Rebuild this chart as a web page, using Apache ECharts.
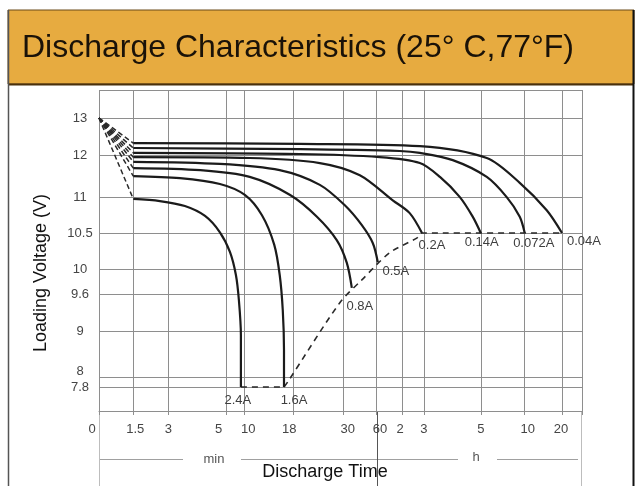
<!DOCTYPE html>
<html><head><meta charset="utf-8">
<script src="https://cdn.jsdelivr.net/npm/echarts@6/dist/echarts.min.js"></script>
<style>html,body{margin:0;padding:0;background:#fff}#c{width:640px;height:486px}</style>
</head><body><div id="c"></div>
<script>
// ---- hand-drawn, non-uniform axes: tick values and their axis-unit positions ----
const xTickMinutes = [0, 1.5, 3, 5, 10, 18, 30, 60, 120, 180, 300, 600, 1200];
const xTickLabels  = ['0','1.5','3','5','10','18','30','60','2','3','5','10','20'];
const xTickScale   = [0, 34.3, 69.3, 127.7, 145.3, 194.3, 244.3, 277.7, 303.3, 325, 382, 426, 463.3];
const xScaleMax    = 483.3;
const yTickVolts   = [13, 12, 11, 10.5, 10, 9.6, 9, 8, 7.8];
const yTickLabels  = ['13','12','11','10.5','10','9.6','9','8','7.8'];
const yTickScale   = [293, 255.5, 213.5, 178, 141.5, 117, 79.5, 34, 24];
const yScaleMax    = 321;

// ---- discharge curves: [time in minutes, voltage] ----
const currents = ['2.4A','1.6A','0.8A','0.5A','0.2A','0.14A','0.072A','0.04A'];
const c2_4   = [[1.5,10.98],[2.64,10.95],[3.57,10.88],[4.26,10.74],[4.77,10.51],[5.94,10.24],[7.64,9.91],[8.49,9.5],[9.06,8.92],[9.06,7.8]];
const c1_6   = [[1.5,11.51],[3.4,11.46],[4.77,11.32],[10.1,11.06],[12.9,10.75],[14.9,10.34],[15.8,9.91],[16.3,9.34],[16.5,8.59],[16.5,7.8]];
const c0_8   = [[1.5,11.7],[4.1,11.65],[10.9,11.49],[17.5,11.06],[23.7,10.73],[28.5,10.4],[33.3,10.09],[37.8,9.7]];
const c0_5   = [[1.5,11.85],[4.77,11.8],[15.8,11.65],[24.4,11.3],[31.5,10.89],[46.8,10.61],[56.7,10.36],[63,10.1]];
const c0_2   = [[1.5,11.96],[10.9,11.94],[24.4,11.82],[45,11.53],[98,10.96],[141,10.78],[175,10.5]];
const c0_14  = [[1.5,12.07],[19.6,12.04],[67.7,11.96],[169,11.82],[214,11.49],[256,11.01],[283,10.73],[300,10.5]];
const c0_072 = [[1.5,12.2],[19.6,12.17],[114.6,12.12],[169,12.07],[241,11.89],[341,11.49],[477,11.01],[566,10.73],[600,10.5]];
const c0_04  = [[1.5,12.33],[19.6,12.31],[169,12.25],[341,11.94],[566,11.35],[954,10.82],[1200,10.5]];
const curves = [c2_4, c1_6, c0_8, c0_5, c0_2, c0_14, c0_072, c0_04];
const startPoint = [0, 13];
// end-voltage cut-off (dashed)
const cutoffLow   = [[9.06,7.8],[16.5,7.8]];
const cutoffCurve = [[16.5,7.8],[17.1,7.9],[29.2,9.46],[46.8,9.83],[91,10.23],[160.6,10.43],[175,10.5],[1200,10.5]];

// style: label nudges (pixels)
const labelOffsets = [[-3,7],[10,7],[8,12],[18,3],[10,6],[1,3],[9,4],[22,2]];
const xLabelShift  = [-7, 2, 0, -8, 4, -4, 4.5, 3.5, -2, 0, 0, 3, -1];

const FONT = '"Liberation Sans", Arial, Helvetica, sans-serif';

function interp(v, from, to) {
  const n = from.length;
  for (let i = 0; i < n - 1; i++) {
    const a = from[i], b = from[i + 1];
    if (v >= Math.min(a, b) && v <= Math.max(a, b)) return to[i] + (v - a) / (b - a) * (to[i + 1] - to[i]);
  }
  const i = (Math.abs(v - from[0]) < Math.abs(v - from[n - 1])) ? 0 : n - 2;
  return to[i] + (v - from[i]) / (from[i + 1] - from[i]) * (to[i + 1] - to[i]);
}
const xPos = t => interp(t, xTickMinutes, xTickScale);
const yPos = v => interp(v, yTickVolts, yTickScale);
const toXY = p => [xPos(p[0]), yPos(p[1])];
function idxOf(arr, v) { let best = 0; for (let i = 1; i < arr.length; i++) if (Math.abs(arr[i] - v) < Math.abs(arr[best] - v)) best = i; return best; }

const GRID = '#8e8e8e';
const LBL = '#454545';
const series = [];
curves.forEach((pts, i) => {
  series.push({ type: 'line', name: currents[i], data: pts.map(toXY), smooth: 0.3, symbol: 'none',
    lineStyle: { color: '#1b1b1b', width: 2.2 }, z: 4, silent: true });
  series.push({ type: 'line', data: [toXY(startPoint), toXY(pts[0])], symbol: 'none',
    lineStyle: { color: '#2a2a2a', width: 1.5, type: [5, 3] }, z: 3, silent: true });
});
series.push({ type: 'line', data: cutoffLow.map(toXY), symbol: 'none', lineStyle: { color: '#2a2a2a', width: 1.6, type: [6, 5] }, z: 3, silent: true });
series.push({ type: 'line', data: cutoffCurve.map(toXY), smooth: 0.3, symbol: 'none', lineStyle: { color: '#2a2a2a', width: 1.6, type: [6, 5] }, z: 3, silent: true });

const xRich = {};
xLabelShift.forEach((s, i) => {
  xRich['r' + i] = { padding: s < 0 ? [0, -2 * s, 0, 0] : [0, 0, 0, 2 * s], fontSize: 13, color: LBL, fontFamily: FONT };
});

const chart = echarts.init(document.getElementById('c'), null, { renderer: 'canvas' });
chart.setOption({
  backgroundColor: '#ffffff',
  animation: false,
  grid: { left: 99, right: 58, top: 90, bottom: 75 },
  xAxis: {
    type: 'value', min: 0, max: xScaleMax,
    axisLine: { show: true, lineStyle: { color: GRID, width: 1 } },
    axisTick: { show: true, length: 4, customValues: xTickScale.concat([xScaleMax]), lineStyle: { color: GRID } },
    axisLabel: {
      customValues: xTickScale, margin: 12, color: LBL, fontSize: 13, fontFamily: FONT,
      formatter: v => { const i = idxOf(xTickScale, v); return '{r' + i + '|' + xTickLabels[i] + '}'; },
      rich: xRich
    },
    splitLine: { show: true, lineStyle: { color: GRID, width: 1 } }
  },
  yAxis: {
    type: 'value', min: 0, max: yScaleMax,
    axisLine: { show: false },
    axisTick: { show: false, customValues: [0].concat(yTickScale, [yScaleMax]) },
    axisLabel: {
      customValues: yTickScale, margin: 19, align: 'center', color: LBL, fontSize: 13, fontFamily: FONT,
      formatter: v => { const i = idxOf(yTickScale, v); const t = yTickLabels[i]; return i === 7 ? '{u|' + t + '}' : t; },
      rich: { u: { padding: [0, 0, 12, 0], fontSize: 13, color: LBL, fontFamily: FONT } }
    },
    splitLine: { show: true, lineStyle: { color: GRID, width: 1 } }
  },
  series: series
});

// decorations and texts (positions derived through the chart's own scales)
const P = (t, v) => chart.convertToPixel({ gridIndex: 0 }, [xPos(t), yPos(v)]);
const PX = a => chart.convertToPixel({ gridIndex: 0 }, [a, 0]);
const left = PX(0), right = PX(xScaleMax), sixty = P(60, 7.8);
const bottomY = left[1];
const g = [];
g.push({ type: 'rect', shape: { x: 8, y: 10, width: 626, height: 74 }, style: { fill: '#E7AB40', stroke: '#6a4a18', lineWidth: 1 }, z: 0 });
g.push({ type: 'line', shape: { x1: 8, y1: 84.5, x2: 634, y2: 84.5 }, style: { stroke: '#4a300c', lineWidth: 2 } });
g.push({ type: 'line', shape: { x1: 8.5, y1: 10, x2: 8.5, y2: 486 }, style: { stroke: '#555', lineWidth: 1.5 } });
g.push({ type: 'line', shape: { x1: 633.5, y1: 10, x2: 633.5, y2: 486 }, style: { stroke: '#111', lineWidth: 2 } });
g.push({ type: 'text', x: 22, y: 48, style: { text: 'Discharge Characteristics (25° C,77°F)', font: '32px ' + FONT, fill: '#1a1208', textAlign: 'left', textVerticalAlign: 'middle' } });
g.push({ type: 'text', x: 41, y: 273, rotation: Math.PI / 2, style: { text: 'Loading Voltage (V)', font: '18px ' + FONT, fill: '#111', textAlign: 'center', textVerticalAlign: 'middle' } });
g.push({ type: 'text', x: 325, y: 472, style: { text: 'Discharge Time', font: '18px ' + FONT, fill: '#111', textAlign: 'center', textVerticalAlign: 'middle' } });
g.push({ type: 'text', x: 214, y: 459, style: { text: 'min', font: '13px ' + FONT, fill: '#555', textAlign: 'center', textVerticalAlign: 'middle' } });
g.push({ type: 'text', x: 476, y: 457, style: { text: 'h', font: '13px ' + FONT, fill: '#555', textAlign: 'center', textVerticalAlign: 'middle' } });
[[left[0], 183], [241, 458], [497, right[0] - 4]].forEach(s => g.push({ type: 'line', shape: { x1: s[0], y1: 459.5, x2: s[1], y2: 459.5 }, style: { stroke: '#a0a0a0', lineWidth: 1 } }));
g.push({ type: 'line', shape: { x1: left[0] + 0.5, y1: bottomY, x2: left[0] + 0.5, y2: 488 }, style: { stroke: '#bdbdbd', lineWidth: 1 } });
g.push({ type: 'line', shape: { x1: right[0] - 0.5, y1: bottomY, x2: right[0] - 0.5, y2: 488 }, style: { stroke: '#bdbdbd', lineWidth: 1 } });
g.push({ type: 'line', shape: { x1: Math.round(sixty[0]) + 0.5, y1: bottomY, x2: Math.round(sixty[0]) + 0.5, y2: 488 }, style: { stroke: '#555', lineWidth: 1 } });
curves.forEach((pts, i) => {
  const e = P(pts[pts.length - 1][0], pts[pts.length - 1][1]);
  g.push({ type: 'text', x: e[0] + labelOffsets[i][0], y: e[1] + labelOffsets[i][1], z: 10,
    style: { text: currents[i], font: '13px ' + FONT, fill: '#3e3e3e', textAlign: 'center', textVerticalAlign: 'top' } });
});
chart.setOption({ graphic: { elements: g } });
</script>
</body></html>
